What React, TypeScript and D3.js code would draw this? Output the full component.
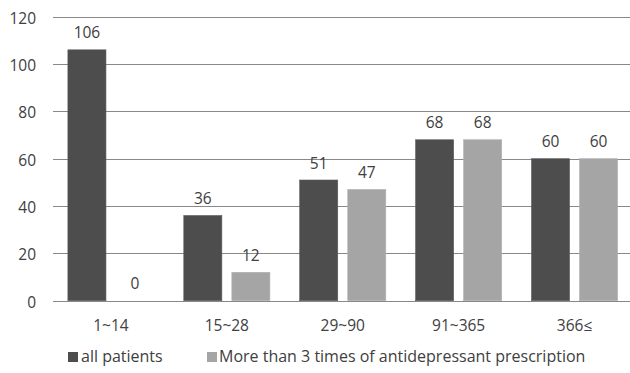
import React from "react";
import * as d3 from "d3";

const categories = ["1~14", "15~28", "29~90", "91~365", "366≤"];
const seriesNames = ["all patients", "More than 3 times of antidepressant prescription"];
const allPatients = [106, 36, 51, 68, 60];
const moreThan3 = [0, 12, 47, 68, 60];
const yTicks = [0, 20, 40, 60, 80, 100, 120];

const colors = ["#4d4d4d", "#a5a5a5"];
const W = 630;
const H = 373;
const font = "'Open Sans', 'DejaVu Sans', sans-serif";
const textColor = "#404040";
const fs = 15.5;
const legendFs = 16;

export default function App() {
  const plotLeft = 53;
  const plotRight = 632.5;
  const x = d3.scaleBand<string>().domain(categories).range([plotLeft, plotRight]).padding(0);
  const inner = d3
    .scaleBand<number>()
    .domain([0, 1])
    .range([0, x.bandwidth()])
    .paddingInner(0.208)
    .paddingOuter(0.31);
  const y = d3.scaleLinear().domain([0, 120]).range([300.7, 16.7]);
  const series = [allPatients, moreThan3];

  return (
    <svg
      width={W}
      height={H}
      style={{ position: "absolute", left: 0, top: 0, background: "#fff" }}
      fontFamily={font}
    >
      <rect width={W} height={H} fill="#fff" />
      {yTicks.map((t) => (
        <g key={t}>
          <line x1={plotLeft} x2={W} y1={Math.round(y(t)) + 0.5} y2={Math.round(y(t)) + 0.5} stroke="#888" strokeWidth={1} />
          <text x={36} y={y(t) + 1.5} dy="0.35em" textAnchor="end" fontSize={fs} fill={textColor}>
            {t}
          </text>
        </g>
      ))}
      {series.map((vals, si) =>
        categories.map((c, ci) => {
          const bx = (x(c) ?? 0) + (inner(si) ?? 0);
          const v = vals[ci];
          return (
            <g key={`${si}-${ci}`}>
              {v > 0 && (
                <rect
                  x={bx}
                  y={y(v)}
                  width={inner.bandwidth()}
                  height={y(0) - y(v)}
                  fill={colors[si]}
                  stroke={si === 0 ? "#5a5a5a" : "#b0b0b0"}
                  strokeWidth={0.6}
                />
              )}
              <text
                x={bx + inner.bandwidth() / 2}
                y={y(v) - 11.5}
                textAnchor="middle"
                fontSize={fs}
                fill={textColor}
              >
                {v}
              </text>
            </g>
          );
        })
      )}
      {categories.map((c) => (
        <text
          key={c}
          x={(x(c) ?? 0) + x.bandwidth() / 2}
          y={331}
          textAnchor="middle"
          fontSize={fs}
          fill={textColor}
        >
          {c}
        </text>
      ))}
      <g>
        <rect x={68} y={352} width={10} height={10} fill={colors[0]} />
        <text x={81} y={362} fontSize={legendFs} fill={textColor}>
          {seriesNames[0]}
        </text>
        <rect x={207} y={352} width={10} height={10} fill={colors[1]} />
        <text x={219} y={362} fontSize={legendFs} fill={textColor}>
          {seriesNames[1]}
        </text>
      </g>
    </svg>
  );
}
